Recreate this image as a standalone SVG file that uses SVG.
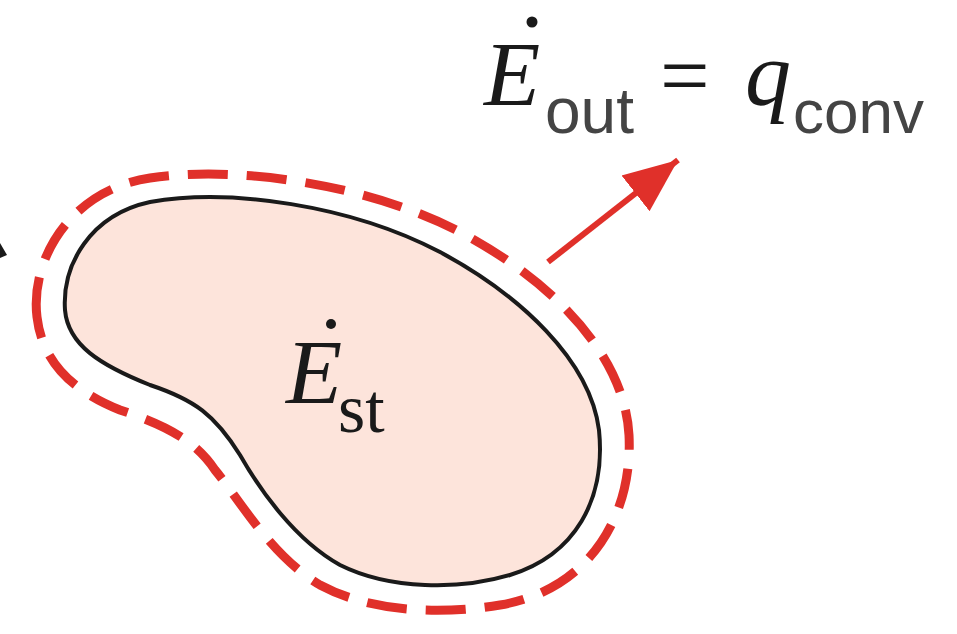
<svg xmlns="http://www.w3.org/2000/svg" width="957" height="634" viewBox="0 0 957 634">
  <defs>
    <style>
      .serifI { font-family: "Liberation Serif", "Times New Roman", serif; font-style: italic; fill: #1a1a1a; }
      .serif { font-family: "Liberation Serif", "Times New Roman", serif; fill: #1a1a1a; }
      .sans { font-family: "Liberation Sans", Arial, sans-serif; fill: #444444; }
      .red { stroke: #e0302a; fill: none; }
    </style>
    <marker id="arrowhead" viewBox="0 0 10 10" refX="10" refY="5" markerWidth="9" markerHeight="9" markerUnits="strokeWidth" orient="auto">
      <path d="M0,0.8 L10,5 L0,9.2 z" fill="#e0302a"/>
    </marker>
  </defs>
  <rect width="957" height="634" fill="#ffffff"/>

  <g id="body">
    <path d="M65,310 C62,265 90,215 150,202 C230,188 350,205 440,252 C520,295 590,360 599,430 C606,500 575,555 510,575 C460,590 390,590 340,565 C295,540 260,490 240,455 C215,415 195,400 150,385 C100,365 68,345 65,310 Z" fill="#fde4db" stroke="#1a1a1a" stroke-width="4"/>
    <text class="serifI" x="286" y="403" font-size="92">E</text>
    <circle cx="331" cy="324" r="5" fill="#1a1a1a"/>
    <text class="serif" x="338" y="432" font-size="70">st</text>
  </g>

  <g id="control-surface">
    <path class="red" d="M37,317 C30,260 70,190 150,178 C240,165 370,185 460,232 C560,285 625,360 629,435 C633,515 590,590 500,605 C440,615 370,612 320,585 C270,555 240,500 215,470 C195,440 165,425 120,410 C70,390 42,360 37,317 Z" stroke-width="9" stroke-dasharray="40 19"/>
  </g>

  <g id="connectors">
    <line x1="548" y1="262" x2="678" y2="160" stroke="#e0302a" stroke-width="6" marker-end="url(#arrowhead)"/>
    <polygon points="0,243 7,255 0,258" fill="#1a1a1a"/>
  </g>

  <g id="label-out">
    <text class="serifI" x="484" y="105" font-size="92">E</text>
    <circle cx="532" cy="22" r="5.5" fill="#1a1a1a"/>
    <text class="sans" x="545" y="133" font-size="64">out</text>
    <text class="serif" x="660" y="105" font-size="88" fill="#333">=</text>
    <text class="serifI" x="745" y="105" font-size="92">q</text>
    <text class="sans" x="793" y="133" font-size="62">conv</text>
  </g>
</svg>
